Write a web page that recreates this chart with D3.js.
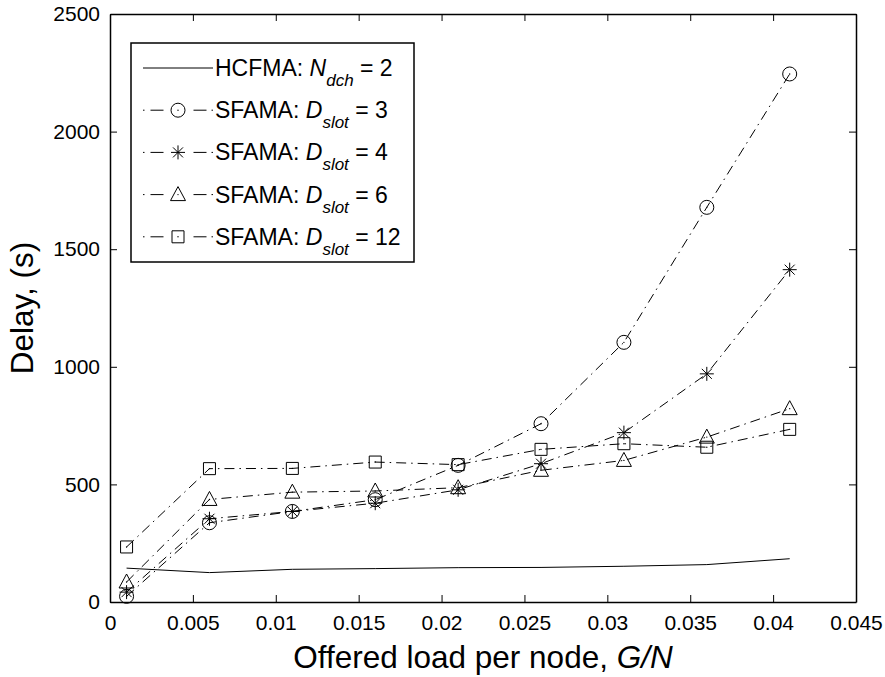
<!DOCTYPE html>
<html>
<head>
<meta charset="utf-8">
<script src="https://cdn.jsdelivr.net/npm/d3@7"></script>
<style>
  html, body { margin: 0; padding: 0; background: #fff; }
  svg { display: block; font-family: "Liberation Sans", Arial, Helvetica, sans-serif; }
</style>
</head>
<body>
<svg id="chart" width="885" height="677"></svg>
<script>
// Offered load per node (G/N) at which each scheme was simulated
const loadPerNode = [0.001, 0.006, 0.011, 0.016, 0.021, 0.026, 0.031, 0.036, 0.041];

// Mean delay in seconds
const hcfmaNdch2   = [144, 125, 139, 142, 146, 147, 152, 159, 184];
const sfamaDslot3  = [24, 337, 385, 435, 581, 758, 1104, 1678, 2245];
const sfamaDslot4  = [42, 354, 385, 420, 477, 588, 720, 970, 1413];
const sfamaDslot6  = [85, 436, 467, 472, 486, 560, 602, 701, 822];
const sfamaDslot12 = [234, 567, 568, 595, 584, 649, 673, 658, 734];

// Axis ticks
const xTickValues = [0, 0.005, 0.01, 0.015, 0.02, 0.025, 0.03, 0.035, 0.04, 0.045];
const xTickLabels = ["0", "0.005", "0.01", "0.015", "0.02", "0.025", "0.03", "0.035", "0.04", "0.045"];
const yTickValues = [0, 500, 1000, 1500, 2000, 2500];

// Legend entries: main text, italic symbol, italic subscript, tail
const series = [
  { values: hcfmaNdch2,   marker: "none",     dashed: false, name: "HCFMA: ", sym: "N", sub: "dch",  tail: " = 2" },
  { values: sfamaDslot3,  marker: "circle",   dashed: true,  name: "SFAMA: ", sym: "D", sub: "slot", tail: " = 3" },
  { values: sfamaDslot4,  marker: "star",     dashed: true,  name: "SFAMA: ", sym: "D", sub: "slot", tail: " = 4" },
  { values: sfamaDslot6,  marker: "triangle", dashed: true,  name: "SFAMA: ", sym: "D", sub: "slot", tail: " = 6" },
  { values: sfamaDslot12, marker: "square",   dashed: true,  name: "SFAMA: ", sym: "D", sub: "slot", tail: " = 12" }
];

const svg = d3.select("#chart");
const plot = { left: 110, right: 856, top: 14, bottom: 602 };

const x = d3.scaleLinear().domain([0, 0.045]).range([plot.left, plot.right]);
const y = d3.scaleLinear().domain([0, 2500]).range([plot.bottom, plot.top]);

const DASH_DOT = "10,5,1.5,5";
const tickLen = 7;

// Marker glyph paths centred on (0,0)
function markerPath(type) {
  const p = d3.path();
  if (type === "circle") {
    p.moveTo(7, 0); p.arc(0, 0, 7, 0, 2 * Math.PI);
  } else if (type === "square") {
    p.rect(-6, -6, 12, 12);
  } else if (type === "triangle") {
    p.moveTo(0, -8); p.lineTo(7.5, 6); p.lineTo(-7.5, 6); p.closePath();
  } else if (type === "star") {
    const r = 7, d = 5;
    p.moveTo(-r, 0); p.lineTo(r, 0);
    p.moveTo(0, -r); p.lineTo(0, r);
    p.moveTo(-d, -d); p.lineTo(d, d);
    p.moveTo(-d, d); p.lineTo(d, -d);
  }
  return p.toString();
}

function drawMarker(g, type, cx, cy) {
  if (type === "none") return;
  g.append("path")
    .attr("d", markerPath(type))
    .attr("transform", `translate(${cx},${cy})`)
    .attr("fill", "none")
    .attr("stroke", "#000")
    .attr("stroke-width", 1);
  if (type !== "star") {
    g.append("circle").attr("cx", cx).attr("cy", cy).attr("r", 0.7).attr("fill", "#000");
  }
}

// Axes: ticks point inward on all four sides
const axisStyle = g => {
  g.select(".domain").attr("stroke", "#000").attr("stroke-width", 1.5);
  g.selectAll(".tick line").attr("stroke", "#000").attr("stroke-width", 1);
  g.selectAll(".tick text").attr("fill", "#000").attr("font-size", 21);
};

svg.append("g")
  .attr("transform", `translate(0,${plot.bottom})`)
  .call(d3.axisBottom(x).tickValues(xTickValues)
    .tickFormat((d, i) => xTickLabels[i]).tickSize(-tickLen).tickSizeOuter(0).tickPadding(13))
  .call(axisStyle)
  .attr("font-family", null);

svg.append("g")
  .attr("transform", `translate(0,${plot.top})`)
  .call(d3.axisTop(x).tickValues(xTickValues).tickFormat("").tickSize(-tickLen).tickSizeOuter(0))
  .call(axisStyle)
  .attr("font-family", null);

svg.append("g")
  .attr("transform", `translate(${plot.left},0)`)
  .call(d3.axisLeft(y).tickValues(yTickValues).tickFormat(d3.format("d"))
    .tickSize(-tickLen).tickSizeOuter(0).tickPadding(10))
  .call(axisStyle)
  .attr("font-family", null);

svg.append("g")
  .attr("transform", `translate(${plot.right},0)`)
  .call(d3.axisRight(y).tickValues(yTickValues).tickFormat("").tickSize(-tickLen).tickSizeOuter(0))
  .call(axisStyle)
  .attr("font-family", null);

// Axis titles
const xTitle = svg.append("text")
  .attr("x", (plot.left + plot.right) / 2)
  .attr("y", 668)
  .attr("text-anchor", "middle")
  .attr("font-size", 31.5)
  .attr("fill", "#000");
xTitle.append("tspan").text("Offered load per node, ");
xTitle.append("tspan").attr("font-style", "italic").text("G/N");

svg.append("text")
  .attr("transform", `translate(33,${(plot.top + plot.bottom) / 2}) rotate(-90)`)
  .attr("text-anchor", "middle")
  .attr("font-size", 31.5)
  .attr("fill", "#000")
  .text("Delay, (s)");

// Series lines and markers
const line = d3.line().x((d, i) => x(loadPerNode[i])).y(d => y(d));
const seriesG = svg.append("g");
series.forEach(s => {
  seriesG.append("path")
    .datum(s.values)
    .attr("d", line)
    .attr("fill", "none")
    .attr("stroke", "#000")
    .attr("stroke-width", 1)
    .attr("stroke-dasharray", s.dashed ? DASH_DOT : null);
  s.values.forEach((v, i) => drawMarker(seriesG, s.marker, x(loadPerNode[i]), y(v)));
});

// Legend
const legend = { left: 131, top: 43, width: 283, height: 219, row0: 68, rowStep: 42.2 };
const lg = svg.append("g");
lg.append("rect")
  .attr("x", legend.left).attr("y", legend.top)
  .attr("width", legend.width).attr("height", legend.height)
  .attr("fill", "#fff").attr("stroke", "#000").attr("stroke-width", 1.5);

series.forEach((s, k) => {
  const cy = legend.row0 + k * legend.rowStep;
  lg.append("line")
    .attr("x1", 143).attr("x2", 213).attr("y1", cy).attr("y2", cy)
    .attr("stroke", "#000").attr("stroke-width", 1)
    .attr("stroke-dasharray", s.dashed ? "1.5,6,13,30,13,5,1.5" : null);
  drawMarker(lg, s.marker, 178, cy);

  const t = lg.append("text")
    .attr("x", 215).attr("y", cy + 8)
    .attr("font-size", 23).attr("fill", "#000");
  t.append("tspan").text(s.name);
  t.append("tspan").attr("font-style", "italic").text(s.sym);
  t.append("tspan").attr("font-style", "italic").attr("font-size", 17).attr("dy", 10).text(s.sub);
  t.append("tspan").attr("dy", -10).text(s.tail);
});
</script>
</body>
</html>
